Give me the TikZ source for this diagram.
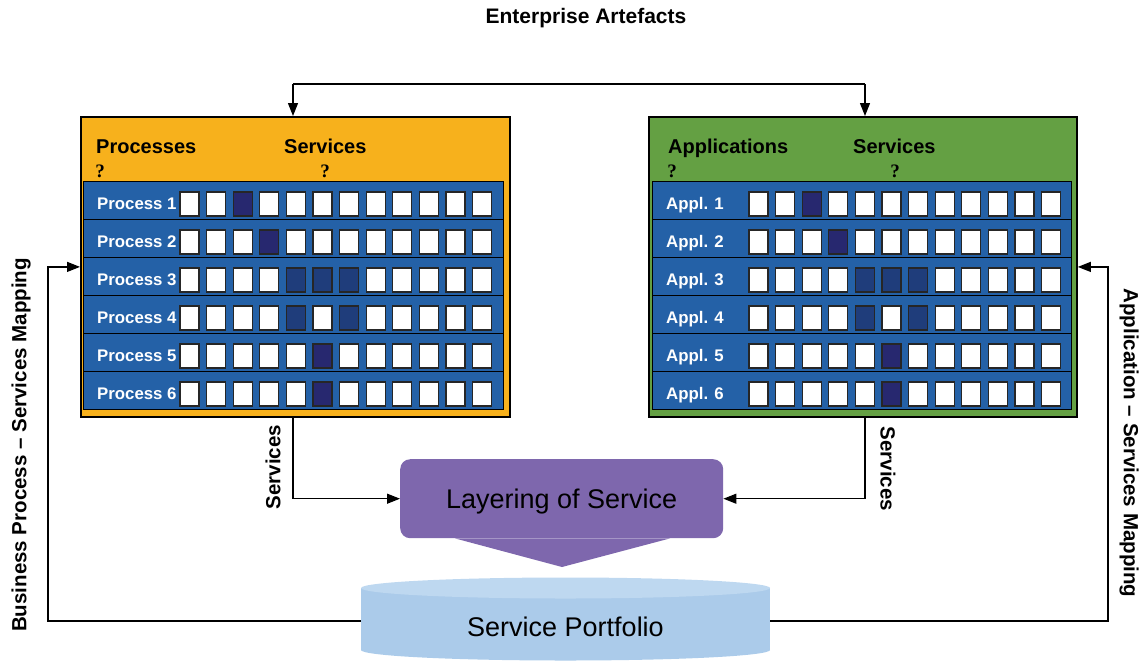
\documentclass[tikz,border=0pt]{standalone}
\usepackage{fontspec}
\setmainfont{Liberation Sans}
\newfontfamily\qfont{Liberation Serif}
\usetikzlibrary{arrows.meta,calc}

\definecolor{procorange}{HTML}{F7B11C}
\definecolor{applgreen}{HTML}{64A043}
\definecolor{rowblue}{HTML}{2461A7}
\definecolor{navyA}{HTML}{27286F}
\definecolor{navyB}{HTML}{1F3D7B}
\definecolor{layerpurple}{HTML}{7E67AD}
\definecolor{cylbody}{HTML}{ABCBEA}
\definecolor{cyltop}{HTML}{BED8F0}

% services used by each row (row-column)
\tikzset{
  d-1-2/.style={fill=navyA}, d-2-3/.style={fill=navyA},
  d-3-4/.style={fill=navyB}, d-3-5/.style={fill=navyB}, d-3-6/.style={fill=navyB},
  d-4-4/.style={fill=navyB}, d-4-6/.style={fill=navyB},
  d-5-5/.style={fill=navyA}, d-6-5/.style={fill=navyA}
}

\begin{document}
\begin{tikzpicture}[x=1pt,y=-1pt,
  conn/.style={draw=black, line width=1.2pt},
  arr/.style={conn, -{Triangle[length=13pt,width=10pt]}},
  frame/.style={draw=black, line width=1.8pt, anchor=north west, inner sep=0pt, minimum height=300pt},
  rowbox/.style={draw=black, line width=1pt, fill=rowblue, anchor=north west, minimum height=38pt, inner sep=0pt},
  cell/.style={draw=black!85, line width=1.3pt, fill=white, minimum width=19pt, minimum height=24pt, inner sep=0pt},
  rowlabel/.style={text=white, font=\fontsize{16.8}{18}\selectfont\bfseries, anchor=base west, inner sep=0pt},
  head/.style={font=\fontsize{20}{24}\selectfont\bfseries, anchor=base west, inner sep=0pt},
  qmark/.style={font=\qfont\fontsize{19}{20}\selectfont\bfseries, anchor=base, inner sep=0pt},
  sidelabel/.style={font=\fontsize{20.5}{24}\selectfont\bfseries, inner sep=0pt},
  big/.style={font=\fontsize{27}{30}\selectfont}
]
\useasboundingbox (0,0) rectangle (1139,662);

% title
\node[font=\fontsize{21}{24}\selectfont\bfseries] (title) at (586,18) {Enterprise Artefacts};

% the two artefact panels
\node[frame, fill=procorange, minimum width=429pt] (proc) at (80,116) {};
\node[frame, fill=applgreen, minimum width=428pt] (appl) at (648,116) {};

\node[head] (prochead) at (96,153) {Processes};
\node[head] (procsvc) at (284,153) {Services};
\node[qmark] (procq1) at (100,177) {?};
\node[qmark] (procq2) at (325,177) {?};

\node[head] (applhead) at (668,153) {Applications};
\node[head] (applsvc) at (853,153) {Services};
\node[qmark] (applq1) at (672,177) {?};
\node[qmark] (applq2) at (895,177) {?};

% mapping rows
\foreach \r in {1,...,6}{
  \node[rowbox, minimum width=420pt] (prow\r) at (83,{181+38*(\r-1)}) {};
  \node[rowbox, minimum width=419pt] (arow\r) at (652,{181+38*(\r-1)}) {};
  \node[rowlabel] (plab\r) at (97,{209+38*(\r-1)}) {Process \r};
  \node[rowlabel] (alab\r) at (666,{209+38*(\r-1)}) {Appl. \r};
  \foreach \c in {0,...,11}{
    \edef\mkcells{%
      \noexpand\node[cell, d-\r-\c/.try] (p\r c\c) at ({189.5+26.6*\c},{204+38*(\r-1)}) {};
      \noexpand\node[cell, d-\r-\c/.try] (a\r c\c) at ({758.5+26.6*\c},{204+38*(\r-1)}) {};
    }\mkcells
  }
}

% layering of service
\node[fill=layerpurple, rounded corners=10pt, anchor=north west, minimum width=323pt,
      minimum height=79pt, inner sep=0pt, big] (layer) at (400,459) {};
\fill[layerpurple] (layer.south -| 455,0) -- (562,567) -- (layer.south -| 670,0) -- cycle;
\node[big] (layertext) at ($(layer.center)+(0,2.5)$) {Layering of Service};

% service portfolio cylinder
\fill[cylbody] (361,588) rectangle (770,650);
\fill[cylbody] (565.5,650) ellipse (204.5 and 10.5);
\fill[cyltop] (565.5,588) ellipse (204.5 and 10.5);
\node[big, minimum width=409pt, minimum height=62pt, inner sep=0pt] (port) at (565.5,627) {Service Portfolio};

% enterprise artefacts feed both panels
\coordinate (barL) at (293,84);
\coordinate (barR) at (865,84);
\draw[conn] (barL) -- (barR);
\draw[arr] (barL) -- (barL |- proc.north);
\draw[arr] (barR) -- (barR |- appl.north);

% services flow into the layering
\draw[arr] (proc.south -| barL) |- (layer.west);
\draw[arr] (appl.south -| barR) |- (layer.east);
\node[sidelabel, rotate=90] (svcL) at (273,467) {Services};
\node[sidelabel, rotate=-90] (svcR) at (888,469) {Services};

% mappings back from the portfolio
\coordinate (fbL) at (48,621);
\coordinate (fbR) at (1108,621);
\draw[arr] (port.west |- fbL) -- (fbL) |- (proc.west);
\draw[arr] (port.east |- fbR) -- (fbR) |- (appl.east);
\node[sidelabel, rotate=90] (bpsm) at (21,445) {Business Process – Services Mapping};
\node[sidelabel, rotate=-90] (asm) at (1129,443) {Application – Services Mapping};
\end{tikzpicture}
\end{document}
